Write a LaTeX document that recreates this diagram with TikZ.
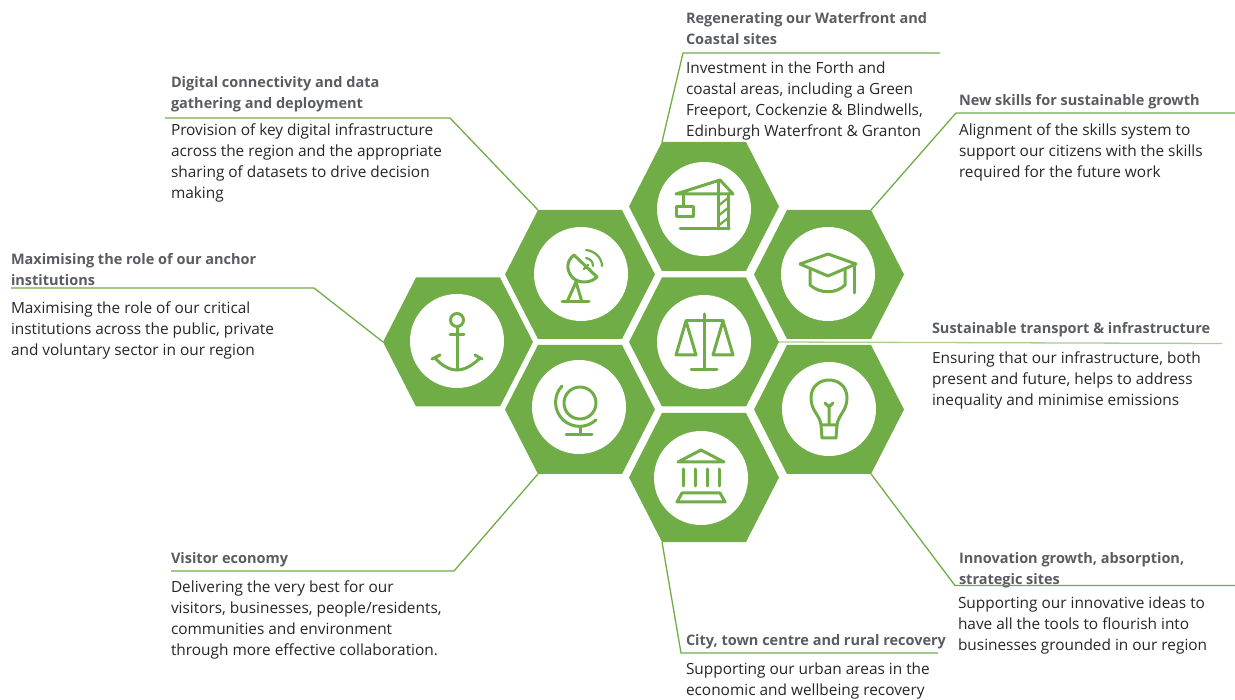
\documentclass[tikz,border=0pt]{standalone}
\usepackage{fontspec}
\setmainfont{Open Sans}
\definecolor{leaf}{HTML}{70AD47}
\definecolor{headgray}{HTML}{595C60}
\definecolor{bodygray}{HTML}{262626}
\tikzset{
  hexfill/.style={fill=leaf,draw=none},
  disc/.style={circle,minimum size=94pt,inner sep=0pt,outer sep=0pt,fill=white},
  leader/.style={draw=leaf,line width=1.3pt},
  softleader/.style={draw=leaf!60,line width=1.3pt},
  icon/.style={draw=leaf,line width=3pt,line cap=round,line join=round,fill=none},
  iconthin/.style={draw=leaf,line width=2.2pt,line cap=round,line join=round,fill=none},
  headtext/.style={anchor=north west,inner sep=0pt,outer sep=0pt,align=left,text=headgray,font=\fontsize{14.5}{21}\selectfont\bfseries},
  bodytext/.style={anchor=north west,inner sep=0pt,outer sep=0pt,align=left,text=bodygray,font=\fontsize{15.4}{21}\selectfont},
}
% a flat-topped hexagon with its corners as named coordinates
\newcommand{\hexagoncell}[3]{%
  \begin{scope}[shift={(#2,#3)}]
    \coordinate (#1-w) at (-75,0);
    \coordinate (#1-nw) at (-42,-64.5);
    \coordinate (#1-ne) at (42,-64.5);
    \coordinate (#1-e) at (75,0);
    \coordinate (#1-se) at (42,64.5);
    \coordinate (#1-sw) at (-42,64.5);
    \path[hexfill] (#1-w) -- (#1-nw) -- (#1-ne) -- (#1-e) -- (#1-se) -- (#1-sw) -- cycle;
  \end{scope}}
\begin{document}
\begin{tikzpicture}[x=1pt,y=-1pt]
\useasboundingbox (0,0) rectangle (1235,700);
% hexagons
\hexagoncell{crane}{704}{206.5}
\hexagoncell{dish}{580}{274.5}
\hexagoncell{grad}{829}{274.5}
\hexagoncell{scales}{704}{342}
\hexagoncell{anchorhex}{458}{342}
\hexagoncell{globe}{580}{409.5}
\hexagoncell{bulb}{829}{409.5}
\hexagoncell{bank}{704}{477.5}
\node[disc] (dcrane) at (704,209) {};
\node[disc] (ddish) at (581,274) {};
\node[disc] (dgrad) at (828,274) {};
\node[disc] (dscales) at (704,342) {};
\node[disc] (danchor) at (457,341) {};
\node[disc] (dglobe) at (579,407) {};
\node[disc] (dbulb) at (829,409) {};
\node[disc] (dbank) at (701,478) {};
% crane
\begin{scope}[shift={(704,209)}]
\draw[icon] (-28,-15) -- (29,-15) -- (16,-29) -- cycle;
\draw[icon] (14,-28) -- (14,20) (24,-15) -- (24,20);
\draw[icon] (-24,20) -- (25,20);
\draw[icon] (-21,-15) -- (-21,-2);
\draw[icon] (-28,-2) rectangle (-11,8);
\draw[iconthin] (14,-3) -- (24,-11) (14,7) -- (24,-1) (14,17) -- (24,9);
\end{scope}
% dish
\begin{scope}[shift={(581,274)}]
\draw[icon] (-7,-19) -- (16,3) .. controls (10,9) and (-1,10) .. (-8,4) .. controls (-15,-3) and (-15,-13) .. cycle;
\draw[icon] (-5,8) -- (-14,28) (-5,8) -- (1,28);
\draw[icon] (-19,28) -- (8,28);
\draw[iconthin] (5,-24) .. controls (14,-23) and (21,-16) .. (21,-8);
\draw[iconthin] (5,-16) .. controls (9,-15) and (12,-13) .. (12,-8);
\draw[iconthin] (3,-5) -- (7,-9);
\end{scope}
% grad cap
\begin{scope}[shift={(828,274)}]
\draw[icon] (-28,-10) -- (0,-20) -- (28,-10) -- (0,2) -- cycle;
\draw[icon] (-18,-4) -- (-18,11) .. controls (-8,20) and (8,20) .. (17,11) -- (17,-4);
\draw[icon] (26,-9) -- (26,19);
\end{scope}
% scales
\begin{scope}[shift={(704,342)}]
\draw[icon] (0,-28) -- (0,28) (-13,28) -- (13,28) (-18,-21) -- (19,-21);
\draw[icon] (-18,-21) -- (-28,13) -- (-8,13) -- cycle;
\draw[icon] (19,-21) -- (9,13) -- (29,13) -- cycle;
\end{scope}
% anchor
\begin{scope}[shift={(457,341)}]
\draw[icon] (0,-21) circle[radius=6.5];
\draw[icon] (0,-14) -- (0,29) (-7,-6) -- (7,-6);
\draw[icon] (-22,17) .. controls (-15,25) and (-7,29) .. (0,29) .. controls (7,29) and (15,25) .. (23,17);
\draw[icon] (-25,18) -- (-17,14) (18,14) -- (25,18);
\end{scope}
% globe
\begin{scope}[shift={(579,407)}]
\draw[icon] (1,-4) circle[radius=16];
\draw[icon] (-17,-21) arc[start angle=223,end angle=47,radius=24];
\draw[icon] (1,20) -- (1,28) (-13,28) -- (13,28);
\end{scope}
% bulb
\begin{scope}[shift={(829,409)}]
\draw[icon] (-8,16) .. controls (-9,6) and (-18,2) .. (-18,-11) .. controls (-18,-35) and (18,-35) .. (18,-11) .. controls (18,2) and (9,6) .. (8,16) -- cycle;
\draw[icon] (-8,16) -- (-7,29) -- (7,29) -- (8,16);
\draw[icon] (0,16) -- (0,-4) (-4,-6) -- (0,-2) -- (4,-6);
\end{scope}
% bank
\begin{scope}[shift={(701,478)}]
\draw[icon] (-23,-16) -- (0,-28) -- (23,-16) -- cycle;
\draw[icon] (-18,-9) -- (-18,8) (-6,-9) -- (-6,8) (6,-9) -- (6,8) (18,-9) -- (18,8);
\draw[icon] (-19,15) -- (19,15) -- (24,24) -- (-24,24) -- cycle;
\end{scope}
% text
\node[headtext] (h1) at (686,9.3) {\strut Regenerating our Waterfront and\\Coastal sites};
\node[bodytext] (b1) at (686,58.8) {\strut Investment in the Forth and\\coastal areas, including a Green\\Freeport, Cockenzie \& Blindwells,\\Edinburgh Waterfront \& Granton};
\node[headtext] (h2) at (171,73.3) {\strut Digital connectivity and data\\gathering and deployment};
\node[bodytext] (b2) at (171,120.8) {\strut Provision of key digital infrastructure\\across the region and the appropriate\\sharing of datasets to drive decision\\making};
\node[headtext] (h3) at (959,91.3) {\strut New skills for sustainable growth};
\node[bodytext] (b3) at (959,120.8) {\strut Alignment of the skills system to\\support our citizens with the skills\\required for the future work};
\node[headtext] (h4) at (932,319.3) {\strut Sustainable transport \& infrastructure};
\node[bodytext] (b4) at (932,348.8) {\strut Ensuring that our infrastructure, both\\present and future, helps to address\\inequality and minimise emissions};
\node[headtext] (h5) at (959,548.3) {\strut Innovation growth, absorption,\\strategic sites};
\node[bodytext] (b5) at (958,593.8) {\strut Supporting our innovative ideas to\\have all the tools to flourish into\\businesses grounded in our region};
\node[headtext] (h6) at (686,630.3) {\strut City, town centre and rural recovery};
\node[bodytext] (b6) at (686,659.8) {\strut Supporting our urban areas in the\\economic and wellbeing recovery};
\node[headtext] (h7) at (171,548.3) {\strut Visitor economy};
\node[bodytext] (b7) at (171,577.8) {\strut Delivering the very best for our\\visitors, businesses, people/residents,\\communities and environment\\through more effective collaboration.};
\node[headtext] (h8) at (11,250.3) {\strut Maximising the role of our anchor\\institutions};
\node[bodytext] (b8) at (11,298.8) {\strut Maximising the role of our critical\\institutions across the public, private\\and voluntary sector in our region};
% leaders
\coordinate (e1a) at (683,53); \coordinate (e1b) at (940,53);
\coordinate (e2a) at (450,118); \coordinate (e2b) at (165,118);
\coordinate (e3a) at (956,113); \coordinate (e3b) at (1235,113);
\coordinate (e4b) at (1222,343.5);
\coordinate (e5a) at (955,585.5); \coordinate (e5b) at (1235,585.5);
\coordinate (e6a) at (681,653); \coordinate (e6b) at (938,653);
\coordinate (e7a) at (454,571); \coordinate (e7b) at (171,571);
\coordinate (e8a) at (314,288); \coordinate (e8b) at (11,288);
\draw[leader] (crane-nw) -- (e1a) -- (e1b);
\draw[leader] (dish-nw) -- (e2a) -- (e2b);
\draw[leader] (grad-ne) -- (e3a) -- (e3b);
\draw[softleader] (scales-e) -- (e4b);
\draw[leader] (bulb-se) -- (e5a) -- (e5b);
\draw[leader] (bank-sw) -- (e6a) -- (e6b);
\draw[leader] (globe-sw) -- (e7a) -- (e7b);
\draw[leader] (anchorhex-w) -- (e8a) -- (e8b);
\end{tikzpicture}
\end{document}
